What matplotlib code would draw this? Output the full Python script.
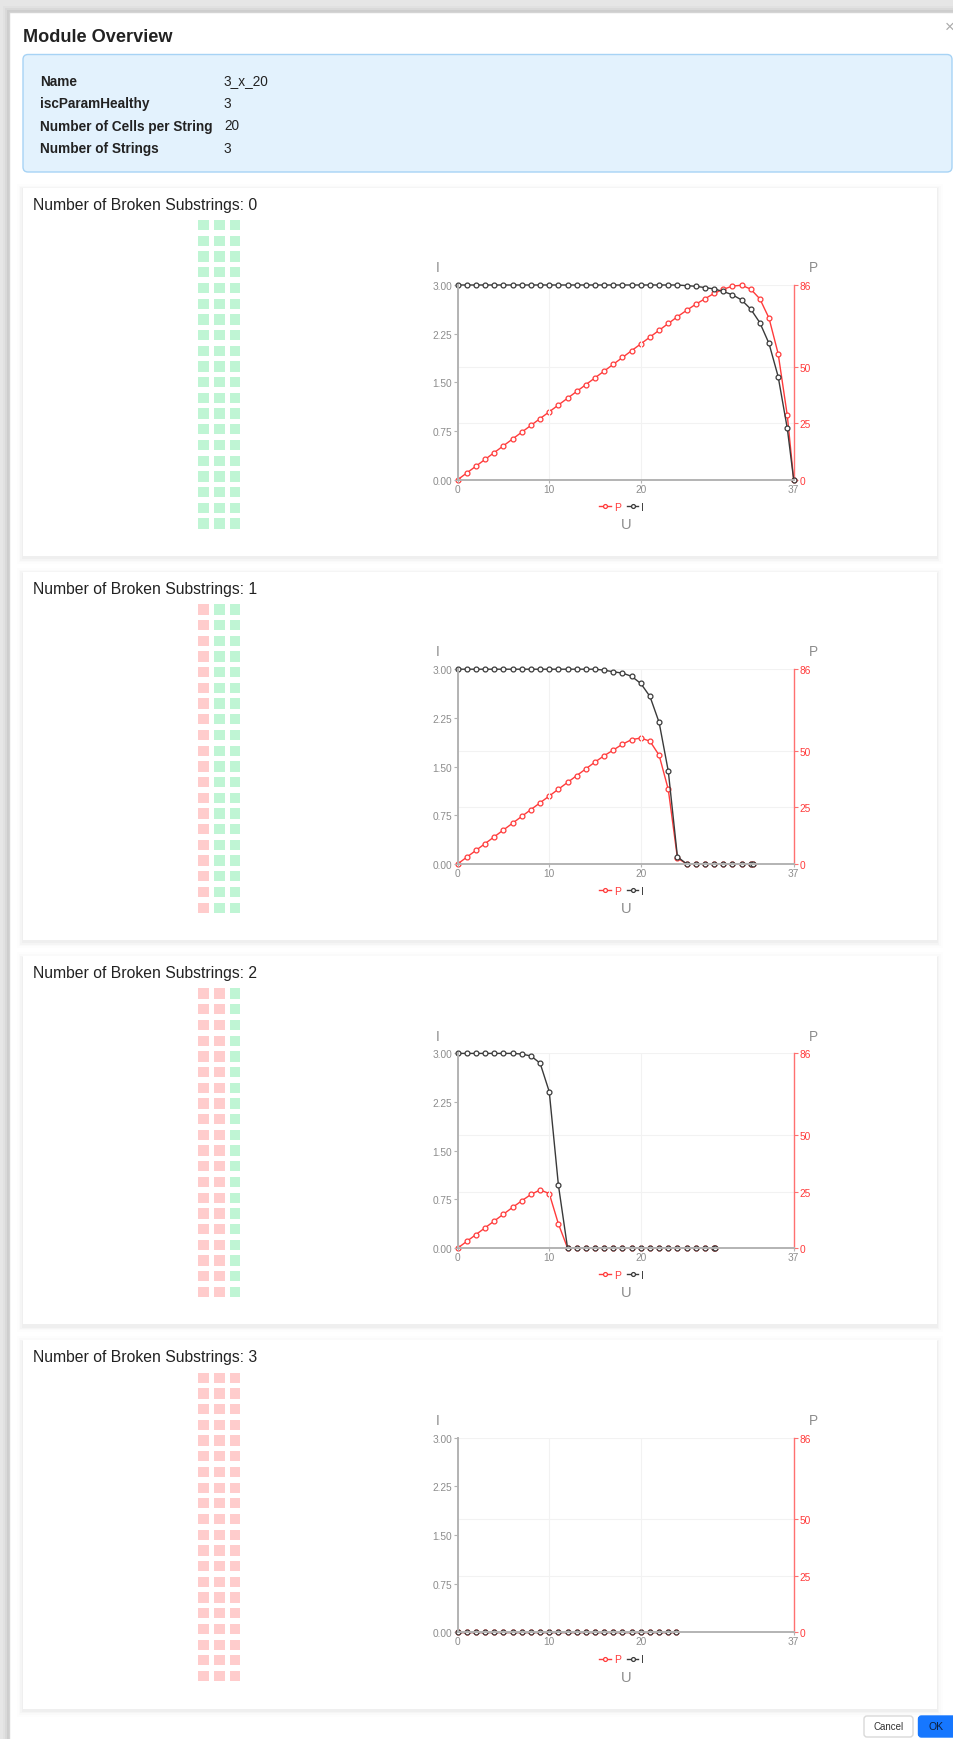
import matplotlib
matplotlib.use('Agg')
import matplotlib.pyplot as plt
from matplotlib.patches import Rectangle, FancyBboxPatch

plt.rcParams['font.family'] = ['Liberation Sans', 'DejaVu Sans']

W, H = 954, 1740

# module info
info_labels = ["Name", "iscParamHealthy", "Number of Cells per String", "Number of Strings"]
info_values = ["3_x_20", "3", "20", "3"]

broken_substrings = [0, 1, 2, 3]
n_strings = 3
cells_per_string = 20

# U-I-P curves, one per panel
u_0 = [0, 1, 2, 3, 4, 5, 6, 7, 8, 9, 10, 11, 12, 13, 14, 15, 16, 17, 18, 19,
       20, 21, 22, 23, 24, 25, 26, 27, 28, 29, 30, 31, 32, 33, 34, 35, 36, 36.7]
i_0 = [3.00, 3.00, 3.00, 3.00, 3.00, 3.00, 3.00, 3.00, 3.00, 3.00, 3.00, 3.00, 3.00,
       3.00, 3.00, 3.00, 3.00, 3.00, 3.00, 3.00, 3.00, 3.00, 3.00, 3.00, 3.00,
       2.99, 2.98, 2.96, 2.94, 2.90, 2.85, 2.77, 2.63, 2.42, 2.10, 1.59, 0.79, 0.00]
p_0 = [0, 3, 6, 9, 12, 15, 18, 21, 24, 27, 30, 33, 36, 39, 42, 45, 48, 51, 54, 57,
       60, 63, 66, 69, 72, 74.8, 77.5, 79.9, 82.3, 84.1, 85.5, 85.9, 84.2, 79.9,
       71.4, 55.7, 28.4, 0]

u_1 = [0, 1, 2, 3, 4, 5, 6, 7, 8, 9, 10, 11, 12, 13, 14, 15, 16, 17, 18, 19,
       20, 21, 22, 23, 24, 25, 26, 27, 28, 29, 30, 31, 32, 32.3]
i_1 = [3.00, 3.00, 3.00, 3.00, 3.00, 3.00, 3.00, 3.00, 3.00, 3.00, 3.00, 3.00, 3.00,
       3.00, 3.00, 3.00, 2.985, 2.96, 2.94, 2.89, 2.78, 2.58, 2.18, 1.43, 0.11,
       0, 0, 0, 0, 0, 0, 0, 0, 0]
p_1 = [0, 3, 6, 9, 12, 15, 18, 21, 24, 27, 30, 33, 36, 39, 42, 45, 47.8, 50.3,
       52.9, 54.9, 55.6, 54.2, 48.0, 32.9, 2.6, 0, 0, 0, 0, 0, 0, 0, 0, 0]

u_2 = [0, 1, 2, 3, 4, 5, 6, 7, 8, 9, 10, 11, 12, 13, 14, 15, 16, 17, 18, 19,
       20, 21, 22, 23, 24, 25, 26, 27, 28, 28.1]
i_2 = [3.00, 3.00, 3.00, 3.00, 3.00, 3.00, 3.00, 2.99, 2.96, 2.85, 2.41, 0.97,
       0, 0, 0, 0, 0, 0, 0, 0, 0, 0, 0, 0, 0, 0, 0, 0, 0, 0]
p_2 = [0, 3, 6, 9, 12, 15, 18, 20.9, 23.7, 25.7, 24.1, 10.7,
       0, 0, 0, 0, 0, 0, 0, 0, 0, 0, 0, 0, 0, 0, 0, 0, 0, 0]

u_3 = [0, 1, 2, 3, 4, 5, 6, 7, 8, 9, 10, 11, 12, 13, 14, 15, 16, 17, 18, 19,
       20, 21, 22, 23, 23.8]
i_3 = [0, 0, 0, 0, 0, 0, 0, 0, 0, 0, 0, 0, 0, 0, 0, 0, 0, 0, 0, 0, 0, 0, 0, 0, 0]
p_3 = [0, 0, 0, 0, 0, 0, 0, 0, 0, 0, 0, 0, 0, 0, 0, 0, 0, 0, 0, 0, 0, 0, 0, 0, 0]

curves = [(u_0, i_0, p_0), (u_1, i_1, p_1), (u_2, i_2, p_2), (u_3, i_3, p_3)]

u_max = 36.7
x_ticks = [0, 10, 20, u_max]
x_ticklabels = ["0", "10", "20", "37"]
i_ticks = [0, 0.75, 1.5, 2.25, 3.0]
p_ticks = [0, 25, 50, 86]

GREY = '#8c8c8c'
RED = '#ff3b3b'
DARK = '#3a3a3a'

fig = plt.figure(figsize=(W / 100, H / 100), dpi=100, facecolor='#e6e6e6')
bg = fig.add_axes([0, 0, 1, 1])
bg.set_xlim(0, W)
bg.set_ylim(H, 0)
bg.axis('off')

# modal with soft shadow
for s, a in [(6, 0.02), (4, 0.03), (2, 0.05)]:
    bg.add_patch(Rectangle((9 - s, 13 - s), W, H, fc='black', alpha=a, lw=0))
bg.add_patch(Rectangle((9, 13), W, H, fc='white', ec='#d4d4d4', lw=1))

bg.text(23, 37, "Module Overview", fontsize=13.1, weight='bold', color='#222222', va='center')
bg.text(950, 27, "\u00d7", fontsize=12, color='#aaaaaa', ha='center', va='center')

# info box
bg.add_patch(FancyBboxPatch((23, 55.5), 929, 117.5, boxstyle='round,pad=0,rounding_size=5',
                            fc='#e3f2fd', ec='#a7d3f5', lw=1))
for k, (lab, val) in enumerate(zip(info_labels, info_values)):
    y = 81.5 + 22.5 * k
    bg.text(40, y, lab, fontsize=9.8, weight='bold', color='#222222', va='center')
    bg.text(224, y, val, fontsize=9.8, color='#222222', va='center')

for k, broken in enumerate(broken_substrings):
    top = 188.6 + 384.2 * k
    # card with a soft shadow
    for s, a in [(6, 0.008), (4, 0.012), (2.5, 0.018), (1.2, 0.025)]:
        bg.add_patch(Rectangle((23 - s, top - s + 2), 914 + 2 * s, 368.4 + 2 * s,
                               fc='black', alpha=a, lw=0))
    bg.add_patch(Rectangle((23, top), 914, 368.4, fc='white', lw=0))
    bg.text(33, top + 16.5, f"Number of Broken Substrings: {broken}", fontsize=11.3,
            color='#222222', va='center')

    # cell grid
    for c in range(n_strings):
        col = '#ffcccc' if c < broken else '#bff5d4'
        for r in range(cells_per_string):
            bg.add_patch(Rectangle((198.3 + 15.85 * c, top + 32.4 + 15.7 * r), 10.5, 10.3,
                                   fc=col, lw=0))

    # chart
    ctop = 286 + 384.2 * k
    cbot = ctop + 194.7
    ax = fig.add_axes([457.7 / W, 1 - cbot / H, 336 / W, 194.7 / H])
    ax2 = ax.twinx()
    u, i_vals, p_vals = curves[k]

    lp, = ax2.plot(u, p_vals, color=RED, lw=1, marker='o', ms=3.5, mfc='white',
                   mec=RED, mew=0.9, label='P', clip_on=False)
    li, = ax.plot(u, i_vals, color=DARK, lw=1, marker='o', ms=3.5, mfc='white',
                  mec=DARK, mew=0.9, label='I', clip_on=False)
    ax.set_zorder(ax2.get_zorder() + 1)
    ax.patch.set_visible(False)

    ax.set_xlim(0, u_max)
    ax.set_ylim(0, 3.0)
    ax2.set_ylim(0, 86)
    ax.set_xticks(x_ticks)
    ax.set_xticklabels(x_ticklabels)
    ax.set_yticks(i_ticks)
    ax.set_yticklabels([f"{t:.2f}" for t in i_ticks])
    ax2.set_yticks(p_ticks)

    for sp in ['top', 'right']:
        ax.spines[sp].set_visible(False)
    for sp in ['top', 'left', 'bottom']:
        ax2.spines[sp].set_visible(False)
    ax.spines['left'].set_color('#b3b3b3')
    ax.spines['left'].set_linewidth(1.4)
    ax.spines['bottom'].set_color('#b3b3b3')
    ax.spines['bottom'].set_linewidth(1.4)
    ax2.spines['right'].set_color('#ff7070')
    ax2.spines['right'].set_linewidth(1)

    ax.tick_params(axis='y', colors='#b3b3b3', labelcolor=GREY, labelsize=7.3, length=3, pad=1)
    ax.tick_params(axis='x', colors='#b3b3b3', labelcolor=GREY, labelsize=7.3, length=2, pad=1)
    ax2.tick_params(axis='y', colors='#ff7070', labelcolor=RED, labelsize=7.3, length=3, pad=1)

    ax.xaxis.grid(True, color='#f2f2f2', lw=0.8)
    ax2.yaxis.grid(True, color='#f2f2f2', lw=0.8)
    ax.set_axisbelow(True)
    ax2.set_axisbelow(True)

    bg.text(437.7, ctop - 17.7, "I", fontsize=9.8, color=GREY, ha='center', va='center')
    bg.text(813, ctop - 17.7, "P", fontsize=9.8, color=GREY, ha='center', va='center')
    bg.text(625.7, cbot + 44.3, "U", fontsize=10.5, color=GREY, ha='center', va='center')

    leg = fig.legend(handles=[lp, li], loc='center', bbox_to_anchor=(621.7 / W, 1 - (cbot + 27) / H),
                     ncol=2, frameon=False, fontsize=7.5, handlelength=1.1, handletextpad=0.3,
                     columnspacing=0.6, markerscale=0.8)
    for txt, colr in zip(leg.get_texts(), [RED, DARK]):
        txt.set_color(colr)

# buttons
bg.add_patch(FancyBboxPatch((864, 1717), 49, 21, boxstyle='round,pad=0,rounding_size=3',
                            fc='white', ec='#d9d9d9', lw=1))
bg.text(888.5, 1727.5, "Cancel", fontsize=7, color='#333333', ha='center', va='center')
bg.add_patch(FancyBboxPatch((918.5, 1717), 38, 21, boxstyle='round,pad=0,rounding_size=3',
                            fc='#1677ff', ec='#1677ff', lw=1))
bg.text(936, 1727.5, "OK", fontsize=7.5, color='#0d1f3c', ha='center', va='center')

fig.savefig("out.png", dpi=100, facecolor=fig.get_facecolor())
